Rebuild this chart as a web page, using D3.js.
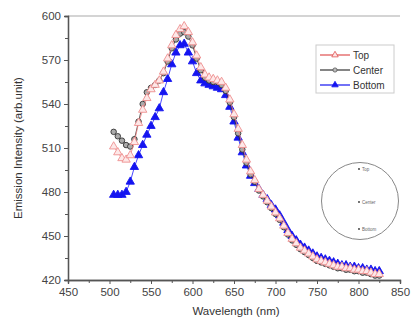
<!DOCTYPE html>
<html><head><meta charset="utf-8">
<script src="https://cdn.jsdelivr.net/npm/d3@7"></script>
<style>body{margin:0;background:#fff}svg{display:block}text{font-family:"Liberation Sans",Arial,sans-serif}</style>
</head><body><svg id="c" width="412" height="322"></svg>
<script>
const wavelength = d3.range(0, 65).map(i => 505 + i * 5); // 505..825 nm sampling grid
const topValues = [511,507,503,502,505,514,527,536,544,550,553,556,562,571,580,587,591,593,589,582,573,565,560,558,557,556,555,551,543,533,523,512,502,494,488,482,478,474,470,466,462,457,452,448,445,442,440,438,436,434,433,432,431,430,429,429,428,428,427,427,426,426,425,424,424];
const centerValues = [521,518,515,512,511,516,528,540,548,551,553,556,561,569,578,584,588,589,586,580,571,563,558,556,555,555,553,549,541,531,520,509,500,492,487,481,477,473,469,465,461,456,451,447,444,441,439,437,435,433,432,431,430,429,428,428,427,427,426,426,425,425,424,423,423];
const bottomValues = [478,478,478,480,487,497,505,512,519,525,531,537,548,557,567,575,580,581,575,569,561,556,554,553,552,551,550,546,538,528,517,507,498,491,486,482,478,475,471,468,464,459,454,450,447,444,442,440,438,436,435,434,433,432,431,430,430,429,429,428,428,427,427,426,426];
const xTicks = [450,500,550,600,650,700,750,800,850];
const yTicks = [420,450,480,510,540,570,600];
const seriesNames = ["Top","Center","Bottom"];
const insetLabels = ["Top","Center","Bottom"];

const svg = d3.select("#c");
const x = d3.scaleLinear().domain([450,850]).range([68,400]);
const y = d3.scaleLinear().domain([420,600]).range([280,16]);

svg.append("line").attr("x1",68).attr("x2",400).attr("y1",16).attr("y2",16).attr("stroke","#aaa").attr("stroke-width",1.2);

const xAxis = svg.append("g").attr("transform","translate(0,280)")
  .call(d3.axisBottom(x).tickValues(xTicks).tickSize(4).tickPadding(4));
const xMinor = svg.append("g").attr("transform","translate(0,280)")
  .call(d3.axisBottom(x).tickValues(xTicks.slice(0,-1).map(v=>v+25)).tickSize(3).tickFormat(""));
const yAxis = svg.append("g").attr("transform","translate(68,0)")
  .call(d3.axisLeft(y).tickValues(yTicks).tickSize(4).tickPadding(3));
const yMinor = svg.append("g").attr("transform","translate(68,0)")
  .call(d3.axisLeft(y).tickValues(yTicks.slice(0,-1).map(v=>v+15)).tickSize(3).tickFormat(""));
[xAxis,xMinor,yAxis,yMinor].forEach(g=>{
  g.selectAll("path").attr("stroke","#555").attr("stroke-width",1.3);
  g.selectAll("line").attr("stroke","#555");
  g.selectAll("text").attr("font-size",11.5).attr("fill","#444");
});

svg.append("text").attr("x",236).attr("y",315).attr("text-anchor","middle").attr("font-size",11.5).attr("fill","#333").text("Wavelength (nm)");
svg.append("text").attr("transform","translate(22,148) rotate(-90)").attr("text-anchor","middle").attr("font-size",11.5).attr("fill","#333").text("Emission Intensity (arb.unit)");

const tri = d3.symbol().type(d3.symbolTriangle).size(30);
const sq = d3.symbol().type(d3.symbolCircle).size(24);
const line = d3.line().x((d,i)=>x(wavelength[i])).y(d=>y(d));

function draw(vals, color, markerFn, fill, stroke){
  svg.append("path").datum(vals).attr("d",line).attr("fill","none").attr("stroke",color).attr("stroke-width",0.8);
  svg.append("g").selectAll("path").data(vals).join("path")
    .attr("transform",(d,i)=>`translate(${x(wavelength[i])},${y(d)})`)
    .attr("d",markerFn).attr("fill",fill).attr("stroke",stroke).attr("stroke-width",0.9);
}
draw(bottomValues,"#1a1aff",tri,"#1414f0","#1414f0");
draw(centerValues,"#333",sq,"#aaa","#333");
draw(topValues,"#f08080",tri,"#fde8e8","#ee9090");

const lg = svg.append("g");
lg.append("rect").attr("x",316).attr("y",45).attr("width",78).attr("height",48).attr("fill","#fff").attr("stroke","#ccc").attr("stroke-width",1);
const legSym = [d3.symbol().type(d3.symbolTriangle).size(18), d3.symbol().type(d3.symbolCircle).size(14), d3.symbol().type(d3.symbolTriangle).size(18)];
const legColors = [["#e05050","#fde5e5","#e05050"],["#333","#bbb","#555"],["#1414f0","#1414f0","#1414f0"]];
seriesNames.forEach((n,i)=>{
  const yy = 55 + i*15;
  lg.append("line").attr("x1",320).attr("x2",350).attr("y1",yy).attr("y2",yy).attr("stroke",legColors[i][0]).attr("stroke-width",1.2);
  lg.append("path").attr("transform",`translate(335,${yy})`).attr("d",legSym[i]).attr("fill",legColors[i][1]).attr("stroke",legColors[i][2]).attr("stroke-width",0.8);
  lg.append("text").attr("x",353).attr("y",yy+3.5).attr("font-size",10).attr("fill","#333").text(n);
});

const ins = svg.append("g");
ins.append("circle").attr("cx",360).attr("cy",201).attr("r",38.5).attr("fill","none").attr("stroke","#888").attr("stroke-width",1);
[169,202,229].forEach((cy,i)=>{
  ins.append("circle").attr("cx",359).attr("cy",cy).attr("r",0.9).attr("fill","#333");
  ins.append("text").attr("x",362).attr("y",cy+1.5).attr("font-size",4.5).attr("fill","#666").text(insetLabels[i]);
});
</script></body></html>
